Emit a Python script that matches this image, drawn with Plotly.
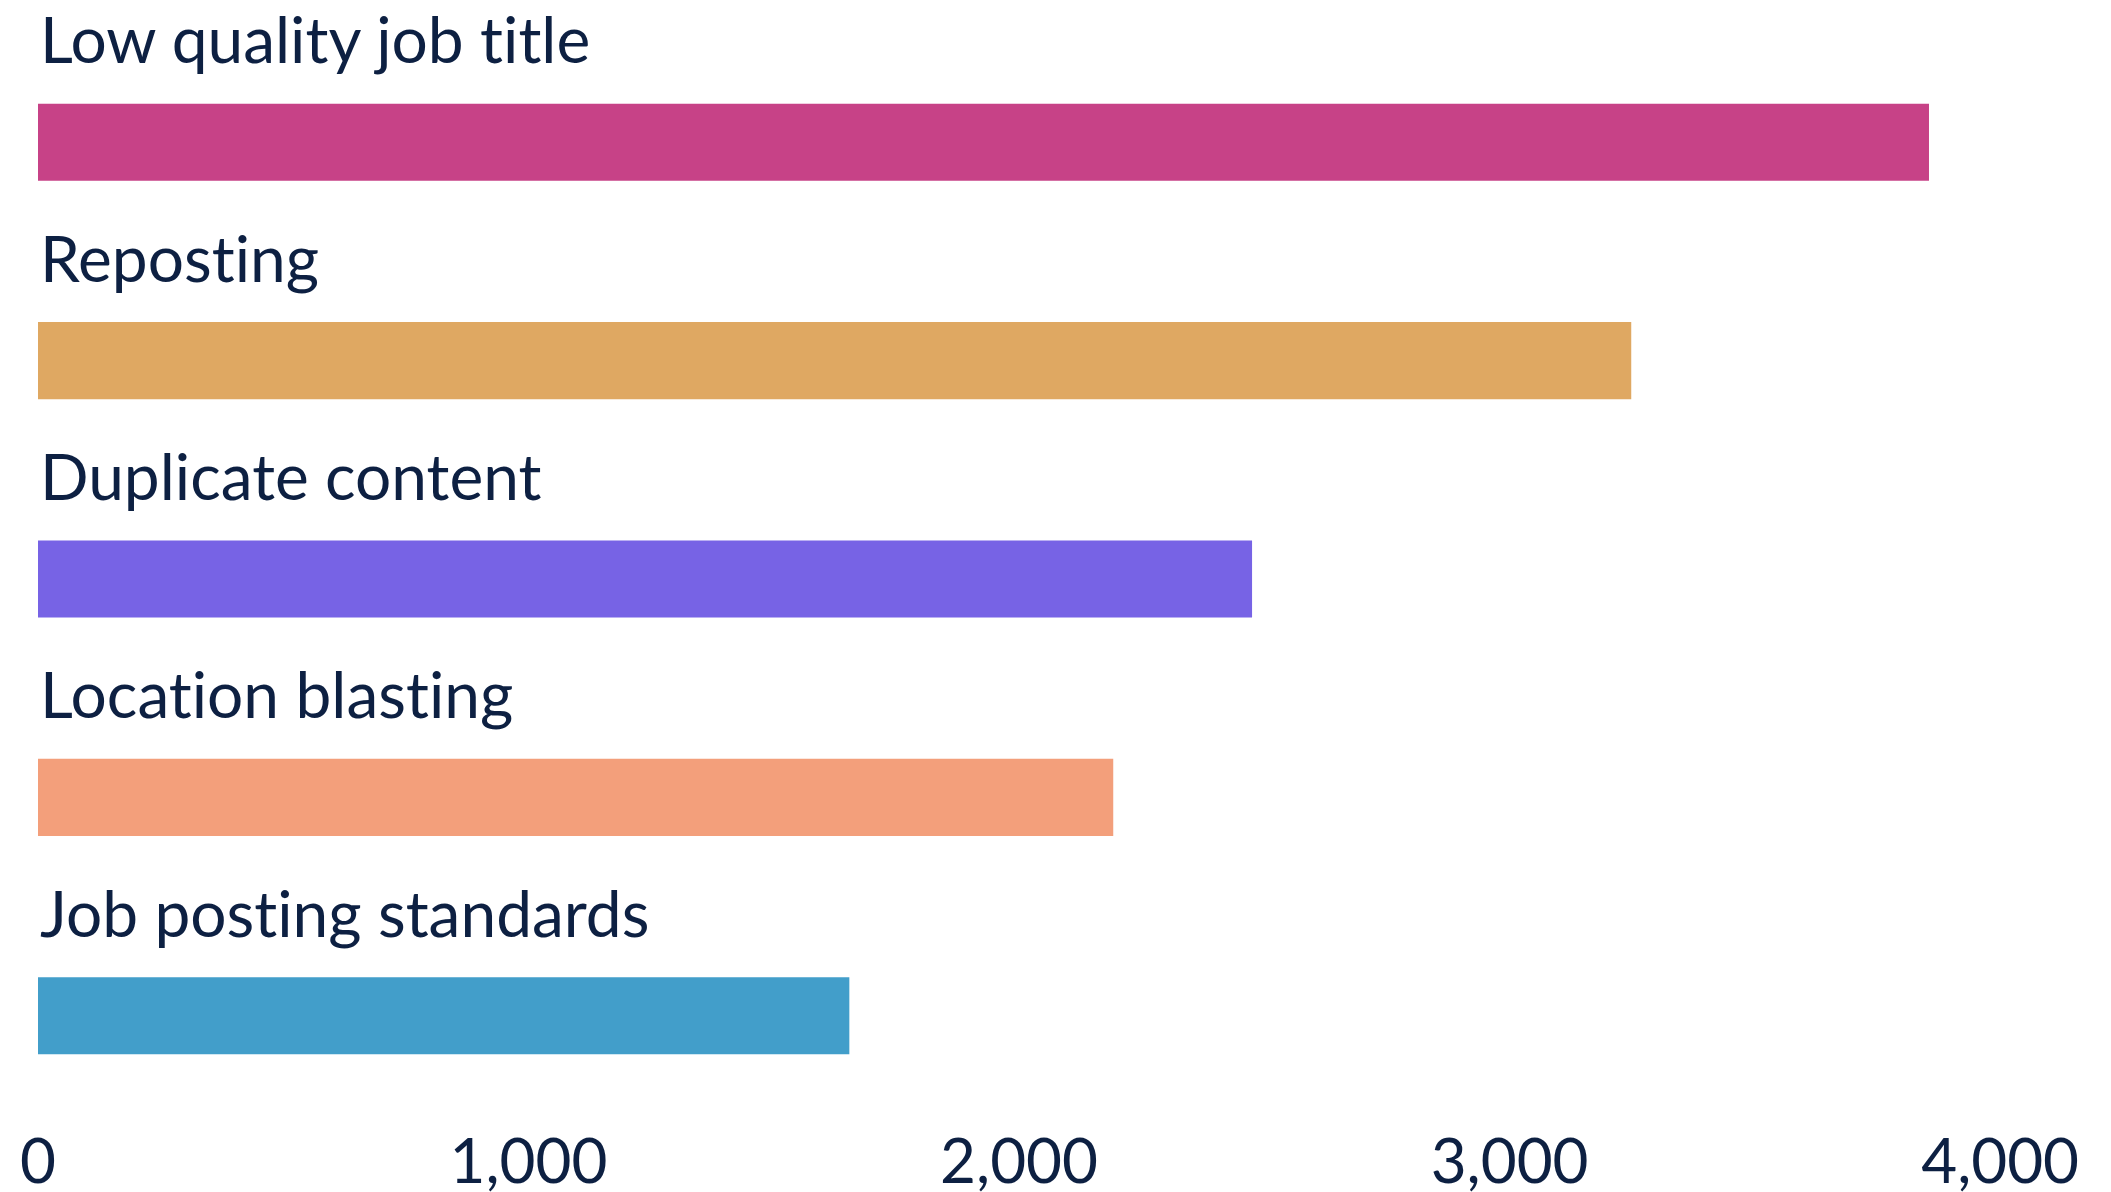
import plotly.graph_objects as go

categories = ["Low quality job title", "Reposting", "Duplicate content",
              "Location blasting", "Job posting standards"]
values = [3855, 3248, 2475, 2192, 1654]
bar_colors = ["#C74287", "#DFA862", "#7763E5", "#F39F7B", "#429ECA"]
tick_values = [0, 1000, 2000, 3000, 4000]
tick_labels = ["0", "1,000", "2,000", "3,000", "4,000"]

TEXT = "#0d2042"
FONT = "Lato"

fig = go.Figure(go.Bar(
    x=values, y=categories, orientation="h",
    marker=dict(color=bar_colors, line=dict(width=0)),
    hoverinfo="x+y",
))

for c in categories:
    # zero-width non-joiner keeps the font from forming a "ti" ligature
    fig.add_annotation(
        x=0, y=c, xref="x", yref="y", text=c.replace("ti", "t\u200ci"),
        showarrow=False, xanchor="left", yanchor="bottom", yshift=63,
        font=dict(family=FONT, size=64, color=TEXT),
    )

# the page body has an 8px default margin, so the figure is offset by 8px
fig.update_layout(
    width=2103, height=1184,
    margin=dict(l=30, r=27, t=25, b=67, autoexpand=False),
    paper_bgcolor="white", plot_bgcolor="white",
    bargap=0.647, showlegend=False,
    xaxis=dict(range=[0, 4171], tickvals=tick_values, ticktext=tick_labels,
               showgrid=False, zeroline=False, showline=False, ticks="",
               tickfont=dict(family=FONT, size=62, color=TEXT),
               ticklabelstandoff=-5,
               automargin=False, fixedrange=True),
    yaxis=dict(categoryorder="array", categoryarray=categories[::-1],
               range=[-0.5, len(categories) - 0.5],
               showticklabels=False, showgrid=False, zeroline=False,
               showline=False, ticks="", automargin=False, fixedrange=True),
)

fig.write_html("out.html")
